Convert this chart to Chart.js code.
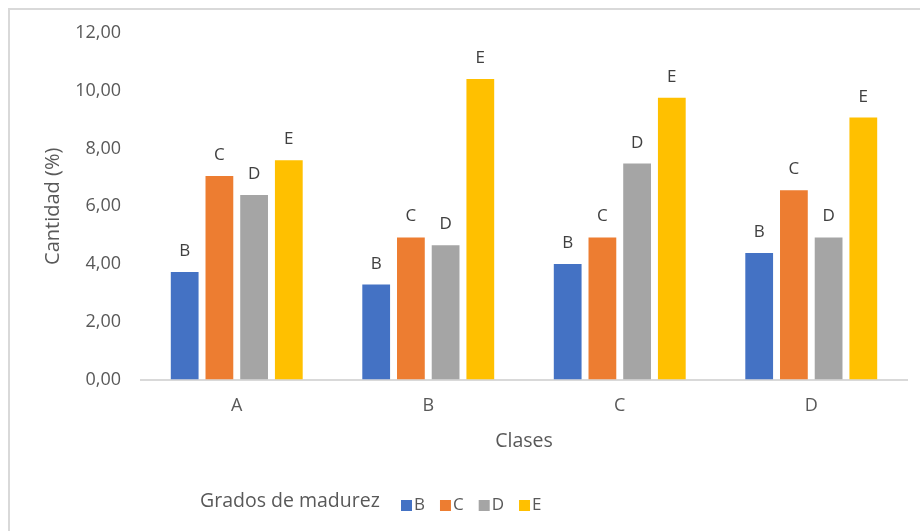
<!DOCTYPE html>
<html>
<head>
<meta charset="utf-8">
<script src="https://cdn.jsdelivr.net/npm/chart.js@4/dist/chart.umd.min.js"></script>
<style>
  html, body { margin: 0; padding: 0; background: #fff; }
  #wrap { position: relative; width: 920px; height: 531px; overflow: hidden; }
  #frame { position: absolute; left: 8px; top: 8px; width: 940px; height: 560px; border: 2px solid #d9d9d9; box-sizing: border-box; }
  canvas { position: absolute; left: 0; top: 0; }
</style>
</head>
<body>
<div id="wrap">
  <div id="frame"></div>
  <canvas id="myChart" width="920" height="531"></canvas>
</div>
<script>
var clases = ['A', 'B', 'C', 'D'];
var grados = ['B', 'C', 'D', 'E'];
var valoresB = [3.72, 3.29, 4.00, 4.38];
var valoresC = [7.05, 4.92, 4.92, 6.55];
var valoresD = [6.39, 4.65, 7.48, 4.92];
var valoresE = [7.59, 10.41, 9.76, 9.07];
var colores = ['#4472C4', '#ED7D31', '#A5A5A5', '#FFC000'];
var yTicks = [0, 2, 4, 6, 8, 10, 12];

var fontName = '"Open Sans", "DejaVu Sans", sans-serif';
var textColor = '#595959';

// letras encima de cada barra
var barLabels = {
  id: 'barLabels',
  afterDatasetsDraw: function(chart) {
    var ctx = chart.ctx;
    ctx.save();
    ctx.font = '17px ' + fontName;
    ctx.fillStyle = '#404040';
    ctx.textAlign = 'center';
    ctx.textBaseline = 'alphabetic';
    chart.data.datasets.forEach(function(ds, i) {
      chart.getDatasetMeta(i).data.forEach(function(bar) {
        ctx.fillText(ds.label, bar.x, bar.y - 16);
      });
    });
    ctx.restore();
  }
};

// leyenda con titulo en la misma linea
var inlineLegend = {
  id: 'inlineLegend',
  afterDraw: function(chart) {
    var ctx = chart.ctx;
    ctx.save();
    ctx.textBaseline = 'alphabetic';
    ctx.textAlign = 'left';
    ctx.fillStyle = textColor;
    ctx.font = '19.5px ' + fontName;
    ctx.fillText('Grados de madurez', 200, 507);
    ctx.font = '17px ' + fontName;
    var x = 401;
    chart.data.datasets.forEach(function(ds) {
      ctx.fillStyle = ds.backgroundColor;
      ctx.fillRect(x, 500, 11, 11);
      ctx.fillStyle = textColor;
      ctx.fillText(ds.label, x + 13, 510);
      x += 13 + ctx.measureText(ds.label).width + 15;
    });
    ctx.restore();
  }
};

function createBarChart(ctxElementId) {
  var ctx = document.getElementById(ctxElementId);
  var series = [valoresB, valoresC, valoresD, valoresE];
  var datasets = grados.map(function(g, i) {
    return {
      label: g,
      data: series[i],
      backgroundColor: colores[i],
      borderWidth: 0,
      barPercentage: 0.8,
      categoryPercentage: 0.725
    };
  });
  return new Chart(ctx, {
    type: 'bar',
    data: { labels: clases, datasets: datasets },
    plugins: [barLabels, inlineLegend],
    options: {
      responsive: false,
      devicePixelRatio: 1,
      animation: false,
      layout: { padding: { top: 33, right: 13, left: 0, bottom: 0 } },
      plugins: {
        legend: { display: false },
        tooltip: { enabled: false }
      },
      scales: {
        x: {
          grid: { display: false, drawTicks: false },
          border: { display: true, color: '#d9d9d9', width: 2 },
          ticks: { color: textColor, font: { family: fontName, size: 18 }, padding: 16 },
          title: { display: true, text: 'Clases', color: textColor, font: { family: fontName, size: 19.5 }, padding: { top: 0, bottom: 78 } },
          afterFit: function(scale) { scale.height = 151.5; }
        },
        y: {
          min: 0,
          max: 12,
          afterBuildTicks: function(scale) {
            scale.ticks = yTicks.map(function(v) { return { value: v }; });
          },
          grid: { display: false, drawTicks: false },
          border: { display: false },
          ticks: {
            color: textColor,
            font: { family: fontName, size: 18 },
            padding: 20,
            callback: function(v) { return Number(v).toFixed(2).replace('.', ','); }
          },
          title: { display: true, text: 'Cantidad (%)', color: textColor, font: { family: fontName, size: 20 }, padding: { top: 41, bottom: 0 } },
          afterFit: function(scale) { scale.width = 141; }
        }
      }
    }
  });
}

createBarChart('myChart');
</script>
</body>
</html>
